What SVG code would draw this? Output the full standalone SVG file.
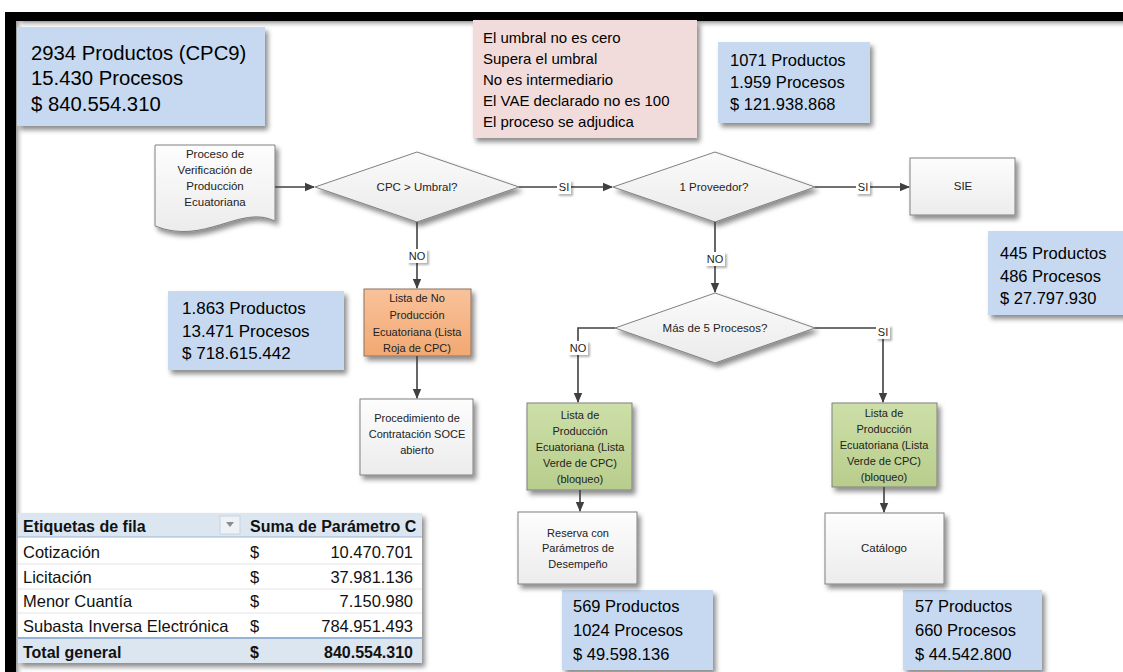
<svg xmlns="http://www.w3.org/2000/svg" width="1123" height="672" viewBox="0 0 1123 672">
<defs>
<style>
.t{font-family:"Liberation Sans",Arial,sans-serif;fill:#000}
.n{font-family:"Liberation Sans",Arial,sans-serif;font-size:11.5px;fill:#222;text-anchor:middle}
.g{font-size:11px}
.lbl{font-family:"Liberation Sans",Arial,sans-serif;font-size:11px;fill:#222;text-anchor:middle}
.info{fill:#c6d9f1}
.box{fill:url(#wg);stroke:#808080;stroke-width:1}
.dia{fill:url(#dg);stroke:#808080;stroke-width:1}
.c{fill:none;stroke:#404040;stroke-width:1.6}
.lb{fill:#fff}
.tb{font-family:"Liberation Sans",Arial,sans-serif;font-size:16.5px;fill:#111}
.tbb{font-family:"Liberation Sans",Arial,sans-serif;font-size:16px;font-weight:bold;fill:#111}
</style>
<linearGradient id="wg" x1="0" y1="0" x2="0" y2="1"><stop offset="0" stop-color="#fdfdfd"/><stop offset="1" stop-color="#ececec"/></linearGradient>
<linearGradient id="dg" x1="0" y1="0" x2="0" y2="1"><stop offset="0" stop-color="#fafafa"/><stop offset="1" stop-color="#ebebeb"/></linearGradient>
<linearGradient id="og" x1="0" y1="0" x2="0" y2="1"><stop offset="0" stop-color="#f9c29a"/><stop offset="1" stop-color="#f2a872"/></linearGradient>
<linearGradient id="gg" x1="0" y1="0" x2="0" y2="1"><stop offset="0" stop-color="#cddfa8"/><stop offset="1" stop-color="#b8cd8c"/></linearGradient>
<linearGradient id="tsh" x1="0" y1="0" x2="0" y2="1"><stop offset="0" stop-color="#9a9a9a"/><stop offset="1" stop-color="#ffffff" stop-opacity="0"/></linearGradient>
<linearGradient id="lsh" x1="0" y1="0" x2="1" y2="0"><stop offset="0" stop-color="#9a9a9a"/><stop offset="1" stop-color="#ffffff" stop-opacity="0"/></linearGradient>
<filter id="sh" x="-10%" y="-10%" width="130%" height="140%"><feDropShadow dx="3" dy="4" stdDeviation="2.5" flood-color="#000" flood-opacity="0.45"/></filter>
<filter id="ssh" x="-20%" y="-20%" width="150%" height="160%"><feDropShadow dx="2" dy="2" stdDeviation="1.2" flood-color="#000" flood-opacity="0.3"/></filter>
<marker id="ah" markerWidth="10" markerHeight="10" refX="9" refY="5" orient="auto" markerUnits="userSpaceOnUse"><path d="M0,0.8 L10,5 L0,9.2 Z" fill="#404040"/></marker>
</defs>
<rect width="1123" height="672" fill="#fff"/>
<g id="frame">
<rect x="16" y="21" width="1107" height="8" fill="url(#tsh)"/>
<rect x="16" y="21" width="8" height="651" fill="url(#lsh)"/>
<rect x="5" y="12" width="1118" height="9" fill="#000"/>
<rect x="5" y="12" width="11" height="660" fill="#000"/>
</g>
<g id="info-total">
<rect x="17" y="27" width="248" height="99" class="info" filter="url(#sh)"/>
<text class="t" x="31" y="60" font-size="20.3">2934 Productos (CPC9)</text>
<text class="t" x="31" y="85" font-size="20.3">15.430 Procesos</text>
<text class="t" x="31" y="111" font-size="20.3">$ 840.554.310</text>
</g>
<g id="criteria">
<rect x="473" y="20" width="224" height="118" fill="#f2dcdb" filter="url(#sh)"/>
<text class="t" x="483" y="43" font-size="15">El umbral no es cero</text>
<text class="t" x="483" y="64" font-size="15">Supera el umbral</text>
<text class="t" x="483" y="85" font-size="15">No es intermediario</text>
<text class="t" x="483" y="106" font-size="15">El VAE declarado no es 100</text>
<text class="t" x="483" y="127" font-size="15">El proceso se adjudica</text>
</g>
<g id="info-1071">
<rect x="718" y="42" width="152" height="81" class="info" filter="url(#sh)"/>
<text class="t" x="730" y="66" font-size="16.5">1071 Productos</text>
<text class="t" x="730" y="88" font-size="16.5">1.959 Procesos</text>
<text class="t" x="730" y="110" font-size="16.5">$ 121.938.868</text>
</g>
<g id="info-445">
<rect x="988" y="231" width="140" height="84" class="info" filter="url(#sh)"/>
<text class="t" x="1000" y="259" font-size="16.5">445 Productos</text>
<text class="t" x="1000" y="282" font-size="16.5">486 Procesos</text>
<text class="t" x="1000" y="304" font-size="16.5">$ 27.797.930</text>
</g>
<g id="info-1863">
<rect x="168" y="291" width="176" height="79" class="info" filter="url(#sh)"/>
<text class="t" x="182" y="314" font-size="17">1.863 Productos</text>
<text class="t" x="182" y="337" font-size="17">13.471 Procesos</text>
<text class="t" x="182" y="359" font-size="17">$ 718.615.442</text>
</g>
<g id="info-569">
<rect x="562" y="590" width="151" height="80" class="info" filter="url(#sh)"/>
<text class="t" x="573" y="612" font-size="16.5">569 Productos</text>
<text class="t" x="573" y="636" font-size="16.5">1024 Procesos</text>
<text class="t" x="573" y="660" font-size="16.5">$ 49.598.136</text>
</g>
<g id="info-57">
<rect x="903" y="590" width="139" height="80" class="info" filter="url(#sh)"/>
<text class="t" x="915" y="612" font-size="16.5">57 Productos</text>
<text class="t" x="915" y="636" font-size="16.5">660 Procesos</text>
<text class="t" x="915" y="660" font-size="16.5">$ 44.542.800</text>
</g>
<g id="doc-proceso">
<path d="M155,145 H275 V221 C240,204 205,246 155,226 Z" class="box" filter="url(#sh)"/>
<text class="n" x="215" y="158">Proceso de</text>
<text class="n" x="215" y="174">Verificación de</text>
<text class="n" x="215" y="190">Producción</text>
<text class="n" x="215" y="206">Ecuatoriana</text>
</g>
<g id="dec-umbral">
<polygon points="315,187 417,152 519,187 417,222" class="dia" filter="url(#sh)"/>
<text class="n" x="417" y="191" font-size="12">CPC &gt; Umbral?</text>
</g>
<g id="dec-proveedor">
<polygon points="613,187 715,152 815,187 715,222" class="dia" filter="url(#sh)"/>
<text class="n" x="714" y="191" font-size="12">1 Proveedor?</text>
</g>
<g id="sie">
<rect x="910" y="158" width="105" height="57" class="box" filter="url(#sh)"/>
<text class="n" x="963" y="190" font-size="12">SIE</text>
</g>
<g id="lista-roja">
<rect x="364" y="289" width="107" height="67" fill="url(#og)" stroke="#8a7565" stroke-width="1" filter="url(#sh)"/>
<text class="n g" x="417" y="302">Lista de No</text>
<text class="n g" x="417" y="319">Producción</text>
<text class="n g" x="417" y="336">Ecuatoriana (Lista</text>
<text class="n g" x="417" y="352">Roja de CPC)</text>
</g>
<g id="procedimiento">
<rect x="360" y="399" width="113" height="76" class="box" filter="url(#sh)"/>
<text class="n g" x="417" y="422">Procedimiento de</text>
<text class="n g" x="417" y="438">Contratación SOCE</text>
<text class="n g" x="417" y="454">abierto</text>
</g>
<g id="dec-procesos">
<polygon points="615,328 715,293 815,328 715,363" class="dia" filter="url(#sh)"/>
<text class="n" x="715" y="332" font-size="12">Más de 5 Procesos?</text>
</g>
<g id="lista-verde-1">
<rect x="527" y="403" width="105" height="87" fill="url(#gg)" stroke="#808080" stroke-width="1" filter="url(#sh)"/>
<text class="n g" x="580" y="419">Lista de</text>
<text class="n g" x="580" y="435">Producción</text>
<text class="n g" x="580" y="451">Ecuatoriana (Lista</text>
<text class="n g" x="580" y="467">Verde de CPC)</text>
<text class="n g" x="580" y="483">(bloqueo)</text>
</g>
<g id="lista-verde-2">
<rect x="832" y="403" width="105" height="84" fill="url(#gg)" stroke="#808080" stroke-width="1" filter="url(#sh)"/>
<text class="n g" x="884" y="417">Lista de</text>
<text class="n g" x="884" y="433">Producción</text>
<text class="n g" x="884" y="449">Ecuatoriana (Lista</text>
<text class="n g" x="884" y="465">Verde de CPC)</text>
<text class="n g" x="884" y="481">(bloqueo)</text>
</g>
<g id="reserva">
<rect x="518" y="512" width="119" height="72" class="box" filter="url(#sh)"/>
<text class="n g" x="578" y="537">Reserva con</text>
<text class="n g" x="578" y="552">Parámetros de</text>
<text class="n g" x="578" y="568">Desempeño</text>
</g>
<g id="catalogo">
<rect x="825" y="513" width="119" height="71" class="box" filter="url(#sh)"/>
<text class="n" x="884" y="552" font-size="12">Catálogo</text>
</g>
<g id="connectors">
<path class="c" d="M275,187 H314" marker-end="url(#ah)"/>
<path class="c" d="M519,187 H612" marker-end="url(#ah)"/>
<path class="c" d="M815,187 H909" marker-end="url(#ah)"/>
<path class="c" d="M417,222 V288" marker-end="url(#ah)"/>
<path class="c" d="M417,356 V398" marker-end="url(#ah)"/>
<path class="c" d="M715,222 V292" marker-end="url(#ah)"/>
<path class="c" d="M615,328 H578 V402" marker-end="url(#ah)"/>
<path class="c" d="M815,328 H883 V402" marker-end="url(#ah)"/>
<path class="c" d="M580,490 V511" marker-end="url(#ah)"/>
<path class="c" d="M884,487 V512" marker-end="url(#ah)"/>
<g filter="url(#ssh)">
<rect x="557" y="180" width="14" height="14" class="lb"/>
<rect x="856" y="180" width="14" height="14" class="lb"/>
<rect x="407" y="249" width="20" height="14" class="lb"/>
<rect x="705" y="252" width="20" height="14" class="lb"/>
<rect x="568" y="341" width="20" height="14" class="lb"/>
<rect x="876" y="325" width="14" height="14" class="lb"/>
</g>
<text class="lbl" x="564" y="191">SI</text>
<text class="lbl" x="863" y="191">SI</text>
<text class="lbl" x="417" y="260">NO</text>
<text class="lbl" x="715" y="263">NO</text>
<text class="lbl" x="578" y="352">NO</text>
<text class="lbl" x="883" y="336">SI</text>
</g>
<g id="pivot-table">
<rect x="18" y="513" width="404" height="150" fill="#fff" filter="url(#sh)"/>
<rect x="18" y="513" width="404" height="24" fill="#dce6f1"/>
<rect x="18" y="637" width="404" height="26" fill="#dce6f1"/>
<line x1="18" y1="537" x2="422" y2="537" stroke="#95b3d7" stroke-width="1"/>
<line x1="18" y1="638" x2="422" y2="638" stroke="#95b3d7" stroke-width="2"/>
<g stroke="#e4e4e4" stroke-width="1">
<line x1="18" y1="564" x2="422" y2="564"/>
<line x1="18" y1="589" x2="422" y2="589"/>
<line x1="18" y1="613" x2="422" y2="613"/>
</g>
<rect x="220" y="516" width="20" height="18" fill="#eef2f7" stroke="#c8d2de" stroke-width="1"/>
<path d="M226,522 L234,522 L230,527 Z" fill="#8c8c8c"/>
<text class="tbb" x="23" y="532">Etiquetas de fila</text>
<text class="tbb" x="250" y="532">Suma de Parámetro C</text>
<text class="tb" x="23" y="558">Cotización</text>
<text class="tb" x="250" y="558">$</text>
<text class="tb" x="413" y="558" text-anchor="end">10.470.701</text>
<text class="tb" x="23" y="583">Licitación</text>
<text class="tb" x="250" y="583">$</text>
<text class="tb" x="413" y="583" text-anchor="end">37.981.136</text>
<text class="tb" x="23" y="607">Menor Cuantía</text>
<text class="tb" x="250" y="607">$</text>
<text class="tb" x="413" y="607" text-anchor="end">7.150.980</text>
<text class="tb" x="23" y="632">Subasta Inversa Electrónica</text>
<text class="tb" x="250" y="632">$</text>
<text class="tb" x="413" y="632" text-anchor="end">784.951.493</text>
<text class="tbb" x="23" y="658" font-size="16.5">Total general</text>
<text class="tbb" x="250" y="658" font-size="16.5">$</text>
<text class="tbb" x="413" y="658" font-size="16.5" text-anchor="end">840.554.310</text>
</g>
</svg>
